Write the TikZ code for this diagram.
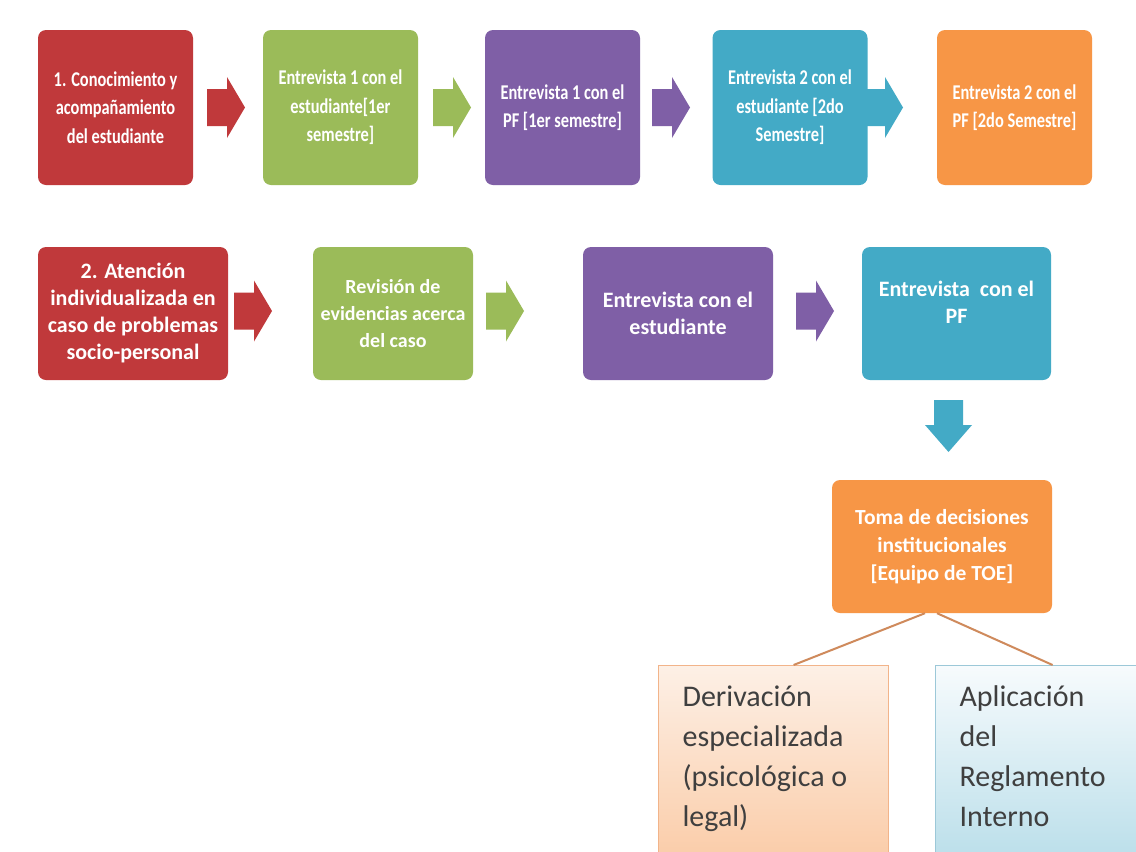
\documentclass[tikz,border=0pt]{standalone}
\usepackage{fontspec}
\setmainfont{Carlito}
\newfontfamily\condfont[FakeStretch=0.78]{Carlito}
\usetikzlibrary{calc}
\definecolor{cred}{HTML}{C0393B}
\definecolor{cgreen}{HTML}{9BBB59}
\definecolor{cpurple}{HTML}{7F5FA6}
\definecolor{cteal}{HTML}{43AAC6}
\definecolor{corange}{HTML}{F79646}
\definecolor{cline}{HTML}{CF8A5C}
\definecolor{ctext}{HTML}{3F3F3F}
\definecolor{peachtop}{HTML}{FDF0E6}
\definecolor{peachbot}{HTML}{FAC9A3}
\definecolor{peachdraw}{HTML}{F2B48A}
\definecolor{bluetop}{HTML}{F7FBFD}
\definecolor{bluebot}{HTML}{B5DCE8}
\definecolor{bluedraw}{HTML}{9CC8D8}
\tikzset{
  box/.style={rounded corners=8, fill=#1, text=white, align=center, inner sep=0},
  rowone/.style={box=#1, font=\condfont\bfseries\fontsize{21}{28.5}\selectfont, minimum width=155, minimum height=155},
  rowtwo/.style={box=#1, font=\bfseries\fontsize{22}{27}\selectfont, minimum height=133},
  leaf/.style={draw=#1, line width=1.2, text=ctext, font=\fontsize{30}{40}\selectfont, align=flush left, anchor=north west, inner xsep=24, inner ysep=20},
  conn/.style={draw=cline, line width=2},
  pics/harr/.style={code={\fill[#1] (-19,-18.5) -- (1,-18.5) -- (1,-30.5) -- (19,0) -- (1,30.5) -- (1,18.5) -- (-19,18.5) -- cycle;}},
  pics/darr/.style={code={\fill[#1] (-14.5,-26) -- (-14.5,-1) -- (-23.5,-1) -- (0,26) -- (23.5,-1) -- (14.5,-1) -- (14.5,-26) -- cycle;}}
}
\begin{document}
\begin{tikzpicture}[x=1pt,y=-1pt]
\useasboundingbox (0,0) rectangle (1136,852);
\fill[white] (0,0) rectangle (1136,852);

% row 1
\node[rowone=cred] (a1) at (115.5,107.5) {1. Conocimiento y\\acompañamiento\\del estudiante};
\node[rowone=cgreen] (a2) at (340.5,107.5) {Entrevista 1 con el\\estudiante[1er\\semestre]};
\node[rowone=cpurple] (a3) at (562.5,107.5) {Entrevista 1 con el\\PF [1er semestre]};
\node[rowone=cteal] (a4) at (790,107.5) {Entrevista 2 con el\\estudiante [2do\\Semestre]};
\node[rowone=corange] (a5) at (1014.5,107.5) {Entrevista 2 con el\\PF [2do Semestre]};

\pic at (226,107.5) {harr=cred};
\pic at (452,107.5) {harr=cgreen};
\pic at (671,107.5) {harr=cpurple};
\pic at (884,107.5) {harr=cteal};

% row 2
\node[rowtwo=cred, minimum width=190] (b1) at (133,313.5) {2. Atención\\individualizada en\\caso de problemas\\socio-personal};
\node[rowtwo=cgreen, minimum width=160, font=\bfseries\fontsize{20}{27}\selectfont] (b2) at (393,313.5) {Revisión de\\evidencias acerca\\del caso};
\node[rowtwo=cpurple, minimum width=190] (b3) at (678,313.5) {Entrevista con el\\estudiante};
\node[rowtwo=cteal, minimum width=189, text depth=22] (b4) at (956.5,313.5) {Entrevista\ \ con el\\PF};

\pic at (253,311) {harr=cred};
\pic at (505,311) {harr=cgreen};
\pic at (815,311) {harr=cpurple};
\pic at (948.5,426) {darr=cteal};

% decision
\node[rowtwo=corange, minimum width=220, font=\bfseries\fontsize{21.5}{28}\selectfont] (c1) at (942,546.5) {Toma de decisiones\\institucionales\\{[}Equipo de TOE{]}};

% leaves
\node[leaf=peachdraw, top color=peachtop, bottom color=peachbot, text width=182, text depth=150] (d1) at (658,665) {Derivación\\especializada\\(psicológica o\\legal)};
\node[leaf=bluedraw, top color=bluetop, bottom color=bluebot, text width=162, text depth=150] (d2) at (935,665) {Aplicación\\del\\Reglamento\\Interno};

\draw[conn] ([xshift=-17]c1.south) -- ([xshift=20]d1.north);
\draw[conn] ([xshift=-5]c1.south) -- ([xshift=12]d2.north);
\end{tikzpicture}
\end{document}
